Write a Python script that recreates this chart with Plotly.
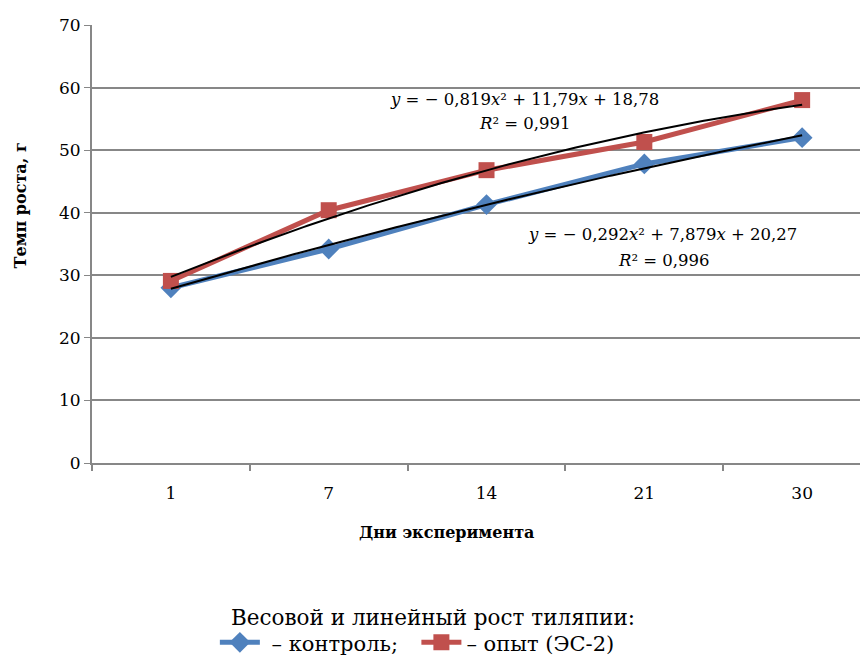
import numpy as np
import plotly.graph_objects as go

days = ["1", "7", "14", "21", "30"]
control = [28.0, 34.2, 41.3, 47.8, 52.0]
experiment = [29.1, 40.4, 46.8, 51.3, 58.0]
# polynomial trend coefficients (a, b, c) shown on chart: y = a x^2 + b x + c
trend_control = [-0.292, 7.879, 20.27]
trend_experiment = [-0.819, 11.79, 18.78]
y_ticks = [0, 10, 20, 30, 40, 50, 60, 70]

BLUE = "#4F81BD"
RED = "#C0504D"
FONT = "DejaVu Serif"

idx = list(range(1, len(days) + 1))
xs = np.linspace(1, len(days), 200)

def poly(c, x):
    return c[0] * x ** 2 + c[1] * x + c[2]

fig = go.Figure()
fig.add_trace(go.Scatter(x=idx, y=control, mode="lines+markers",
                         name="\u00a0– контроль;\u00a0\u00a0",
                         line=dict(color=BLUE, width=5),
                         marker=dict(symbol="diamond", size=16, color=BLUE)))
fig.add_trace(go.Scatter(x=idx, y=experiment, mode="lines+markers",
                         name="– опыт\u00a0(ЭС-2)",
                         line=dict(color=RED, width=5),
                         marker=dict(symbol="square", size=16, color=RED)))
fig.add_trace(go.Scatter(x=xs, y=poly(trend_control, xs), mode="lines", showlegend=False,
                         line=dict(color="black", width=2), hoverinfo="skip"))
fig.add_trace(go.Scatter(x=xs, y=poly(trend_experiment, xs), mode="lines", showlegend=False,
                         line=dict(color="black", width=2), hoverinfo="skip"))

fig.update_layout(
    width=868, height=657,
    margin=dict(l=84, r=0, t=17, b=202),
    paper_bgcolor="white", plot_bgcolor="white",
    font=dict(family=FONT, color="black", size=17),
    showlegend=True,
    legend=dict(orientation="h", x=0.415, xanchor="center", yref="container", y=0.034,
                yanchor="middle", font=dict(size=21, family=FONT), itemwidth=40,
                bgcolor="rgba(0,0,0,0)"),
    xaxis=dict(range=[0.5, 5.468], tickmode="array", tickvals=idx, ticktext=days,
               showgrid=False, zeroline=False, showline=True, linecolor="#878787", linewidth=2,
               ticks="", tickfont=dict(size=17, family=FONT), ticklabelstandoff=14,
               minor=dict(tickmode="linear", tick0=0.5, dtick=1, ticks="outside",
                          ticklen=6, tickcolor="#878787", tickwidth=1.5)),
    yaxis=dict(range=[0, 70], tickmode="array", tickvals=y_ticks, showgrid=True,
               gridcolor="#878787", gridwidth=1.5, zeroline=False, showline=True,
               linecolor="#878787", linewidth=2, ticks="outside", ticklen=6,
               tickcolor="#878787", tickfont=dict(size=17, family=FONT)),
)

EQ = dict(size=16.5, family=FONT)
fig.add_annotation(x=3.241, y=58.17, xref="x", yref="y", showarrow=False, font=EQ,
                   text="<i>y</i> = − 0,819<i>x</i>² + 11,79<i>x</i> + 18,78")
fig.add_annotation(x=3.241, y=54.18, xref="x", yref="y", showarrow=False, font=EQ,
                   text="<i>R</i>² = 0,991")
fig.add_annotation(x=4.112, y=36.44, xref="x", yref="y", showarrow=False, font=EQ,
                   text="<i>y</i> = − 0,292<i>x</i>² + 7,879<i>x</i> + 20,27")
fig.add_annotation(x=4.125, y=32.44, xref="x", yref="y", showarrow=False, font=EQ,
                   text="<i>R</i>² = 0,996")
fig.add_annotation(x=0.452, y=-0.184, xref="paper", yref="paper", showarrow=False,
                   text="<b>Дни эксперимента</b>", font=dict(size=16, family=FONT))
fig.add_annotation(x=-0.106, y=0.589, xref="paper", yref="paper", showarrow=False,
                   text="<b>Темп роста, г</b>", textangle=-90, font=dict(size=16, family=FONT))
fig.add_annotation(x=0.435, y=-0.385, xref="paper", yref="paper", showarrow=False,
                   text="Весовой и линейный рост тиляпии:", font=dict(size=21.5, family=FONT))

fig.write_html("out.html")
